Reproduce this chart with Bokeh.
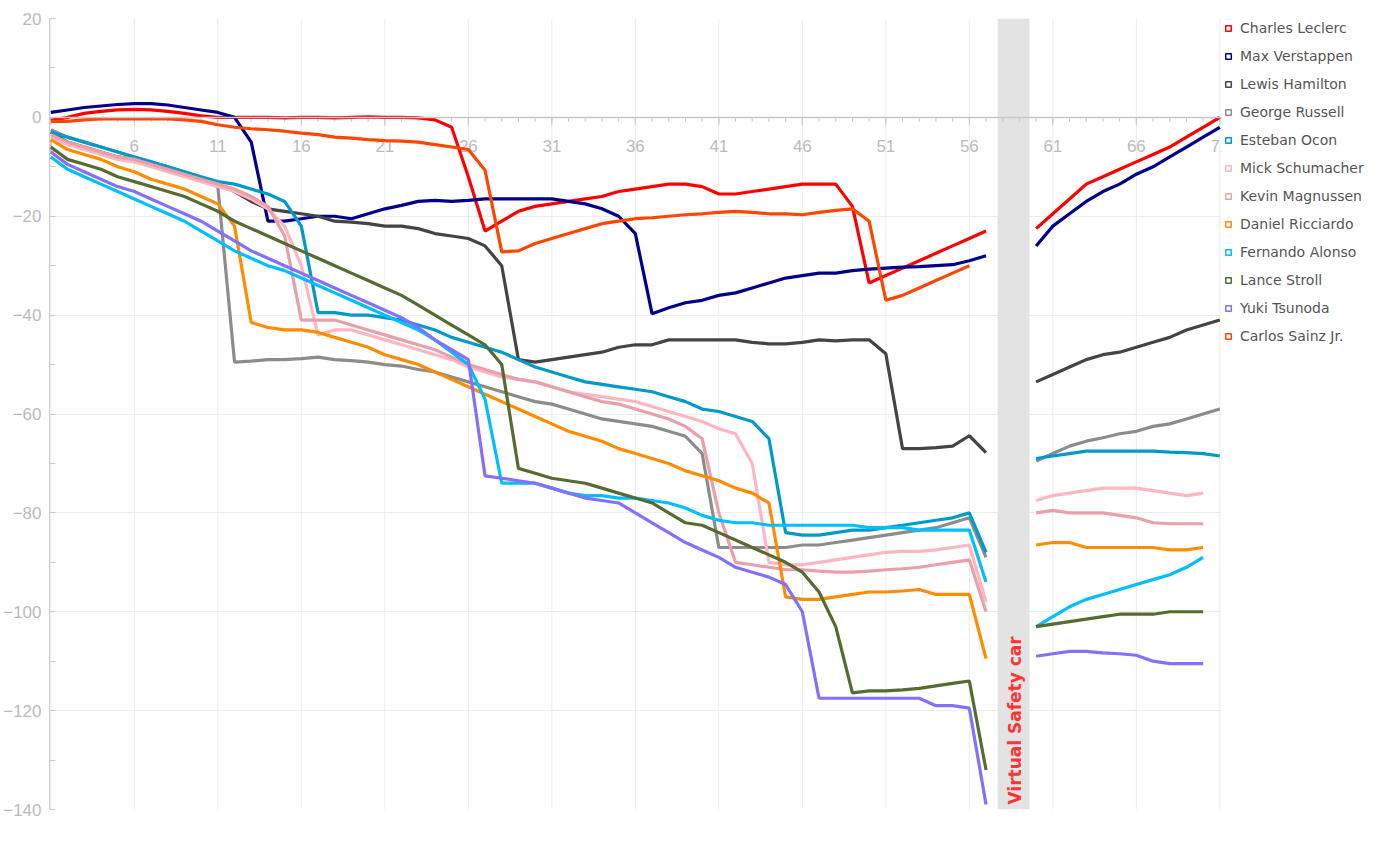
import numpy as np
from math import pi
from bokeh.plotting import figure
from bokeh.models import (Range1d, BoxAnnotation, Legend, LegendItem, Span,
                          SingleIntervalTicker, Label)
from bokeh.core.properties import value
from bokeh.embed import file_html
from bokeh.resources import INLINE

N = np.nan
laps = list(range(1, 72))

# values per lap 1..57, then laps 58,59 (VSC gap), then 60..71
def series(a, b):
    full = list(a) + [N] * (57 - len(a)) + [N, N] + list(b)
    full += [N] * (71 - len(full))
    return full

leclerc = series(
    [-0.6, 0, 0.8, 1.2, 1.5, 1.6, 1.5, 1.2, 0.8, 0.3, 0, 0, 0, 0, -0.1, 0, 0, -0.1, 0, 0.1, 0, 0, -0.1, -0.5,
     -2, -12, -23, -21, -19, -18, -17.5, -17, -16.5, -16, -15, -14.5, -14, -13.5, -13.5, -14, -15.5, -15.5,
     -15, -14.5, -14, -13.5, -13.5, -13.5, -18, -33.5, -32, -30.5, -29, -27.5, -26, -24.5, -23],
    [-22.5, -19.5, -16.5, -13.5, -12, -10.5, -9, -7.5, -6, -4, -2, 0])
verstappen = series(
    [1, 1.5, 2, 2.3, 2.6, 2.8, 2.8, 2.5, 2, 1.5, 1, 0, -5, -21, -21, -20.5, -20, -20, -20.5, -19.5, -18.5,
     -17.8, -17, -16.8, -17, -16.8, -16.5, -16.5, -16.5, -16.5, -16.5, -17, -17.5, -18.5, -20, -23.5, -39.7,
     -38.5, -37.5, -37, -36, -35.5, -34.5, -33.5, -32.5, -32, -31.5, -31.5, -31, -30.7, -30.5, -30.3, -30.2,
     -30, -29.8, -29, -28],
    [-26, -22, -19.5, -17, -15, -13.5, -11.5, -10, -8, -6, -4, -2])
hamilton = series(
    [-3, -5, -6, -7, -8, -8.5, -9.5, -10.5, -11.5, -12.5, -13.5, -15, -17, -18.5, -19, -19.5, -20, -21,
     -21.2, -21.5, -22, -22, -22.5, -23.5, -24, -24.5, -26, -30, -49, -49.5, -49, -48.5, -48, -47.5, -46.5,
     -46, -46, -45, -45, -45, -45, -45, -45.5, -45.8, -45.8, -45.5, -45, -45.2, -45, -45, -47.8, -67, -67,
     -66.8, -66.5, -64.4, -67.8],
    [-53.5, -52, -50.5, -49, -48, -47.5, -46.5, -45.5, -44.5, -43, -42, -41])
russell = series(
    [-2.5, -4, -5, -6, -7, -8, -9, -10, -11, -12.5, -14, -49.5, -49.3, -49, -49, -48.8, -48.5, -49, -49.2,
     -49.5, -50, -50.3, -51, -51.5, -52.5, -53.5, -54.5, -55.5, -56.5, -57.5, -58, -59, -60, -61, -61.5,
     -62, -62.5, -63.5, -64.5, -68, -87, -87, -87, -87, -87, -86.5, -86.5, -86, -85.5, -85, -84.5, -84,
     -83.5, -83, -82, -81, -89],
    [-69.5, -68, -66.5, -65.5, -64.8, -64, -63.5, -62.5, -62, -61, -60, -59])
ocon = series(
    [-3, -4, -5, -6, -7, -8, -9, -10, -11, -12, -13, -13.5, -14.5, -15.5, -17, -22, -39.5, -39.5, -40, -40,
     -40.5, -41, -42, -43, -44.5, -45.5, -46.5, -47.5, -49, -50.5, -51.5, -52.5, -53.5, -54, -54.5, -55,
     -55.5, -56.5, -57.5, -59, -59.5, -60.5, -61.5, -65, -84, -84.5, -84.5, -84, -83.5, -83.5, -83, -82.5,
     -82, -81.5, -81, -80, -88],
    [-69, -68.5, -68, -67.5, -67.5, -67.5, -67.5, -67.5, -67.7, -67.8, -68, -68.5])
schumacher = series(
    [-4, -5.5, -6.5, -7.5, -8.5, -9, -10, -11, -12, -13, -14, -15, -16.5, -18.5, -22, -30, -44, -43, -43,
     -44, -45, -46, -47, -48, -49, -50.5, -51.5, -52.5, -53, -53.5, -54.5, -55.5, -56, -56.5, -57, -57.5,
     -58.5, -59.5, -60.5, -61.5, -63, -64, -70, -90, -90.5, -90.5, -90, -89.5, -89, -88.5, -88, -87.8,
     -87.8, -87.5, -87, -86.5, -98],
    [-77.5, -76.5, -76, -75.5, -75, -75, -75, -75.5, -76, -76.5, -76])
magnussen = series(
    [-3.5, -5, -6, -7, -8, -8.5, -9.5, -10.5, -11.5, -12.5, -13.5, -14.5, -16, -18, -24, -41, -41, -41,
     -42, -43, -44, -45, -46, -47, -48.5, -50, -51, -52, -53, -53.5, -54.5, -55.5, -56.5, -57.5, -58, -59,
     -60, -61, -62.5, -65, -80, -90, -90.5, -91, -91.5, -91.5, -91.8, -92, -92, -91.8, -91.5, -91.3, -91,
     -90.5, -90, -89.5, -100],
    [-80, -79.5, -80, -80, -80, -80.5, -81, -82, -82.2, -82.2, -82.2])
ricciardo = series(
    [-4.5, -6.5, -7.5, -8.5, -10, -11, -12.5, -13.5, -14.5, -16, -17.5, -22, -41.5, -42.5, -43, -43, -43.5,
     -44.5, -45.5, -46.5, -48, -49, -50, -51.5, -53, -54.5, -56, -57.5, -59, -60.5, -62, -63.5, -64.5, -65.5,
     -67, -68, -69, -70, -71.5, -72.5, -73.5, -75, -76, -78, -97, -97.5, -97.5, -97, -96.5, -96, -96, -95.8,
     -95.5, -96.5, -96.5, -96.5, -109.5],
    [-86.5, -86, -86, -87, -87, -87, -87, -87, -87.5, -87.5, -87])
alonso = series(
    [-8, -10.5, -12, -13.5, -15, -16.5, -18, -19.5, -21, -23, -25, -27, -28.5, -30, -31, -32.5, -34, -35.5,
     -37, -38.5, -40, -41.5, -43, -45, -47.5, -50, -57, -74, -74, -74, -75, -76, -76.5, -76.5, -77, -77,
     -77.5, -78, -79, -80.5, -81.5, -82, -82, -82.5, -82.5, -82.5, -82.5, -82.5, -82.5, -83, -83, -83,
     -83.5, -83.5, -83.5, -83.5, -94],
    [-103, -101, -99, -97.5, -96.5, -95.5, -94.5, -93.5, -92.5, -91, -89])
stroll = series(
    [-6, -8.5, -9.5, -10.5, -12, -13, -14, -15, -16, -17.5, -19, -21, -22.5, -24, -25.5, -27, -28.5, -30,
     -31.5, -33, -34.5, -36, -38, -40, -42, -44, -46, -50, -71, -72, -73, -73.5, -74, -75, -76, -77, -78,
     -80, -82, -82.5, -84, -85.5, -87, -88.5, -90, -92, -96, -103, -116.4, -116, -116, -115.8, -115.5, -115,
     -114.5, -114, -132],
    [-103, -102.5, -102, -101.5, -101, -100.5, -100.5, -100.5, -100, -100, -100])
tsunoda = series(
    [-7, -9.5, -11, -12.5, -14, -15, -16.5, -18, -19.5, -21, -23, -25, -27, -28.5, -30, -31.5, -33, -34.5,
     -36, -37.5, -39, -40.5, -42.5, -45, -47, -49, -72.5, -73, -73.5, -74, -75, -76, -77, -77.5, -78, -80,
     -82, -84, -86, -87.5, -89, -91, -92, -93, -94.5, -100, -117.5, -117.5, -117.5, -117.5, -117.5, -117.5,
     -117.5, -119, -119, -119.5, -139],
    [-109, -108.5, -108, -108, -108.3, -108.5, -108.8, -110, -110.5, -110.5, -110.5])
sainz = series(
    [-0.8, -0.8, -0.5, -0.3, -0.3, -0.3, -0.3, -0.3, -0.5, -0.8, -1.5, -2, -2.3, -2.5, -2.8, -3.2, -3.5, -4,
     -4.2, -4.5, -4.7, -4.8, -5, -5.5, -6, -6.5, -10.7, -27.2, -27, -25.5, -24.5, -23.5, -22.5, -21.5, -21,
     -20.5, -20.3, -20, -19.7, -19.5, -19.2, -19, -19.2, -19.5, -19.5, -19.7, -19.2, -18.8, -18.5, -21, -37,
     -36, -34.5, -33, -31.5, -30],
    [])

drivers = ["Charles Leclerc", "Max Verstappen", "Lewis Hamilton", "George Russell", "Esteban Ocon",
           "Mick Schumacher", "Kevin Magnussen", "Daniel Ricciardo", "Fernando Alonso", "Lance Stroll",
           "Yuki Tsunoda", "Carlos Sainz Jr."]
gaps = [leclerc, verstappen, hamilton, russell, ocon, schumacher, magnussen, ricciardo, alonso,
        stroll, tsunoda, sainz]
colors = ["#ff0000", "#00008b", "#444444", "#8c8c8c", "#0099cc", "#ffb6c1", "#e8a0ab", "#ff8c00",
          "#00bfff", "#556b2f", "#8470ff", "#ff4500"]
x_label_laps = list(range(1, 72, 5))
vsc_start, vsc_end = 57.7, 59.6

p = figure(output_backend="svg", toolbar_location=None, frame_width=1172, frame_height=791,
           x_range=Range1d(0.92, 71.1), y_range=Range1d(-140, 20),
           min_border_left=42, min_border_top=18, min_border_bottom=10, min_border_right=16)
p.outline_line_color = None

p.xaxis.visible = False
p.xgrid.visible = False
p.ygrid.grid_line_color = "#ececec"
yax = p.yaxis[0]
yax.ticker = SingleIntervalTicker(interval=20, num_minor_ticks=2)
p.ygrid.ticker = SingleIntervalTicker(interval=20)
yax.axis_line_color = "#cccccc"
yax.major_tick_line_color = "#cccccc"
yax.minor_tick_line_color = "#cccccc"
yax.major_tick_in = 6
yax.major_tick_out = 0
yax.minor_tick_in = 6
yax.minor_tick_out = 0
yax.major_label_text_color = "#bbbbbb"
yax.major_label_text_font = "Liberation Sans"
yax.major_label_text_font_size = "17px"
yax.major_label_standoff = 8

p.segment(x0=x_label_laps, x1=x_label_laps, y0=[-140] * len(x_label_laps), y1=[20] * len(x_label_laps),
          line_color="#ececec", line_width=1)

p.add_layout(BoxAnnotation(left=vsc_start, right=vsc_end, fill_color="#e3e3e3", fill_alpha=1,
                           line_color=None, level="underlay"))

p.add_layout(Span(location=0, dimension="width", line_color="#c8c8c8", line_width=1.5))
p.segment(x0=laps, x1=laps, y0=[0] * 71, y1=[-0.9] * 71, line_color="#c8c8c8", line_width=1)
p.segment(x0=x_label_laps, x1=x_label_laps, y0=[0] * len(x_label_laps), y1=[-1.6] * len(x_label_laps),
          line_color="#c8c8c8", line_width=1)
p.text(x=x_label_laps, y=[-5.8] * len(x_label_laps), text=[str(l) for l in x_label_laps],
       text_align="center", text_baseline="middle", text_color="#bbbbbb",
       text_font=value("Liberation Sans"), text_font_size="17px")

for g, c in zip(gaps, colors):
    p.line(laps, g, line_color=c, line_width=3.2)

p.text(x=[(vsc_start + vsc_end) / 2 + 0.1], y=[-139], text=["Virtual Safety car"], angle=pi / 2,
       text_align="left", text_baseline="middle", text_color="#ff3333", text_font_style="bold",
       text_font=value("DejaVu Sans"), text_font_size="17px")

items = []
for name, c in zip(drivers, colors):
    r = p.scatter(x=[-1000], y=[-1000], marker="square", size=13, fill_color="white", line_color=c,
                  line_width=1.5)
    items.append(LegendItem(label=name, renderers=[r]))
legend = Legend(items=items, location="top_left", border_line_color=None, background_fill_alpha=0,
                label_text_font="DejaVu Sans", label_text_font_size="14px",
                label_text_color="#555555", glyph_width=14, glyph_height=20, spacing=8,
                label_standoff=5, padding=0, margin=0, label_height=20)
p.add_layout(legend, "right")

p.add_layout(Label(x=1345, y=8, x_units="screen", y_units="screen", text="© F1FRIX.com", angle=pi / 2,
                   text_color="#bbbbbb", text_font_size="9px", text_font="DejaVu Sans",
                   text_baseline="bottom"))

open("out.html", "w").write(file_html(p, INLINE))
